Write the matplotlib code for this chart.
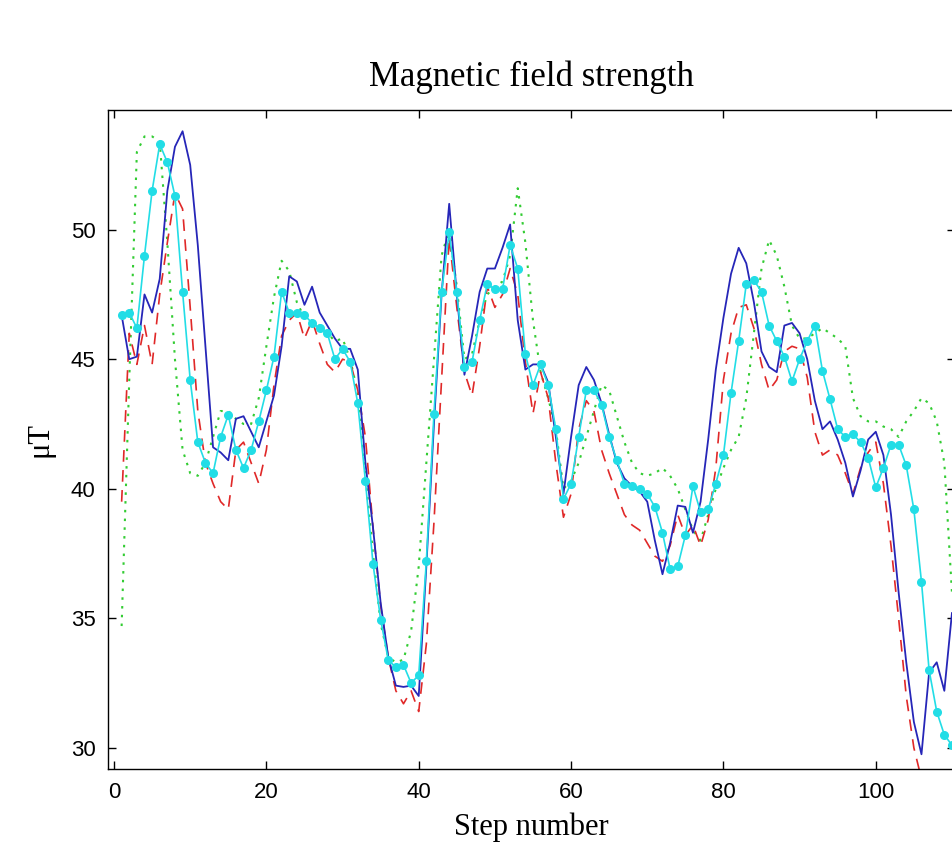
import matplotlib
matplotlib.use("Agg")
import matplotlib.pyplot as plt
import numpy as np

steps = list(range(1, 111))

blue = [46.7, 45.0, 45.1, 47.5, 46.8, 48.1, 51.5, 53.2, 53.8, 52.5,
        49.4, 45.5, 41.6, 41.4, 41.1, 42.7, 42.8, 42.2, 41.6, 42.6,
        43.6, 45.5, 48.2, 48.0, 47.1, 47.8, 46.8, 46.3, 45.8, 45.4,
        45.4, 44.6, 41.0, 38.5, 35.6, 33.5, 32.4, 32.35, 32.4, 32.0,
        37.0, 42.5, 47.5, 51.0, 47.5, 44.4, 45.9, 47.6, 48.5, 48.5,
        49.3, 50.2, 46.5, 44.6, 44.8, 44.8, 44.1, 42.0, 39.8, 42.0,
        44.0, 44.7, 44.2, 43.3, 42.1, 41.0, 40.4, 40.1, 39.9, 39.5,
        38.0, 36.7, 37.9, 39.35, 39.3, 38.3, 39.5, 41.9, 44.6, 46.6,
        48.3, 49.3, 48.7, 47.2, 45.3, 44.7, 44.5, 46.3, 46.4, 46.0,
        45.0, 43.4, 42.3, 42.6, 41.9, 41.0, 39.7, 40.7, 41.9, 42.2,
        41.3, 39.0, 36.0, 33.3, 31.0, 29.75, 32.9, 33.3, 32.2, 35.2]

cyan = [46.7, 46.8, 46.2, 49.0, 51.5, 53.3, 52.6, 51.3, 47.6, 44.2,
        41.8, 41.0, 40.6, 42.0, 42.85, 41.5, 40.8, 41.5, 42.6, 43.8,
        45.1, 47.6, 46.8, 46.8, 46.7, 46.4, 46.2, 46.0, 45.0, 45.4,
        44.9, 43.3, 40.3, 37.1, 34.95, 33.4, 33.1, 33.2, 32.5, 32.8,
        37.2, 42.9, 47.6, 49.9, 47.6, 44.7, 44.9, 46.5, 47.9, 47.7,
        47.7, 49.4, 48.5, 45.2, 44.0, 44.8, 44.0, 42.3, 39.6, 40.2,
        42.0, 43.8, 43.8, 43.25, 42.0, 41.1, 40.2, 40.1, 40.0, 39.8,
        39.3, 38.3, 36.9, 37.0, 38.2, 40.1, 39.1, 39.2, 40.2, 41.3,
        43.7, 45.7, 47.9, 48.05, 47.6, 46.3, 45.7, 45.1, 44.15, 45.0,
        45.7, 46.3, 44.55, 43.45, 42.3, 42.0, 42.1, 41.8, 41.2, 40.05,
        40.8, 41.7, 41.7, 40.9, 39.2, 36.4, 33.0, 31.4, 30.5, 30.1]

red = [39.5, 46.0, 44.8, 46.3, 44.8, 47.5, 49.5, 51.4, 50.8, 47.0,
       43.0, 41.0, 40.2, 39.5, 39.2, 41.5, 41.8, 41.0, 40.2, 41.5,
       44.0, 45.9, 46.5, 46.8, 45.8, 46.5, 45.6, 44.8, 44.5, 45.0,
       44.9, 43.8, 42.0, 38.5, 35.5, 33.5, 32.2, 31.7, 32.2, 31.4,
       34.0, 38.7, 44.2, 49.7, 47.0, 44.5, 43.6, 45.5, 47.8, 47.0,
       47.5, 48.5, 47.5, 44.9, 42.9, 44.5, 43.5, 41.0, 38.9, 39.8,
       42.3, 43.4, 43.0, 41.5, 40.6, 39.8, 39.0, 38.6, 38.4, 37.9,
       37.4, 37.2, 37.8, 39.0, 38.2, 38.6, 37.8, 38.8, 40.8, 44.2,
       46.0, 47.0, 47.1, 46.2, 44.8, 43.8, 44.2, 45.3, 45.5, 45.4,
       44.3, 42.2, 41.3, 41.5, 41.3, 40.6, 39.8, 40.8, 41.4, 41.8,
       40.2, 37.8, 35.0, 32.0, 30.0, 28.8, 28.3, 28.5, 28.8, 28.9]

green = [34.7, 44.2, 53.0, 53.6, 53.6, 53.4, 49.5, 45.0, 41.5, 40.6,
         40.5, 41.0, 42.0, 43.0, 43.0, 42.7, 42.5, 42.5, 43.5, 45.5,
         47.4, 48.8, 48.4, 47.2, 46.6, 46.5, 46.3, 46.0, 45.7, 45.8,
         45.0, 43.7, 40.5, 37.5, 34.8, 33.5, 33.3, 33.4, 34.5, 37.0,
         41.0, 45.0, 49.0, 50.0, 47.8, 45.0, 45.2, 46.5, 47.5, 47.8,
         48.0, 49.0, 51.6, 49.5, 46.5, 44.5, 43.5, 42.3, 40.0, 40.3,
         41.0, 42.0, 43.0, 44.0, 43.8, 42.8, 41.8, 41.0, 40.6, 40.5,
         40.6, 40.8, 40.5, 40.0, 39.2, 38.4, 38.0, 39.0, 40.0, 40.8,
         41.5, 42.0, 43.5, 46.0, 48.5, 49.6, 49.0, 47.8, 46.3, 45.8,
         45.8, 46.0, 46.2, 46.0, 45.8, 45.5, 43.5, 42.8, 42.6, 42.6,
         42.4, 42.3, 42.0, 42.6, 43.0, 43.5, 43.3, 42.6, 41.0, 36.0]

xticks = [0, 20, 40, 60, 80, 100]
yticks = [30, 35, 40, 45, 50]

W, H = 953, 863
fig = plt.figure(figsize=(W / 100, H / 100), dpi=100)
left, right, top, bottom = 108, 955, 110, 769.3
ax = fig.add_axes([left / W, 1 - bottom / H, (right - left) / W, (bottom - top) / H])

ax.plot(steps, green, linestyle=(0, (1.2, 3)), color='#33cc33', linewidth=1.5)
ax.plot(steps, red, linestyle=(0, (7, 5)), color='#e02828', linewidth=1.2)
ax.plot(steps, blue, linestyle='-', color='#2626b8', linewidth=1.3)
ax.plot(steps, cyan, linestyle='-', color='#22dde6', linewidth=1.2,
        marker='o', markersize=5.5, markerfacecolor='#22dde6', markeredgecolor='#22dde6')

ax.set_xlim(-0.79, 110.4)
ax.set_ylim(29.17, 54.62)
ax.set_xticks(xticks)
ax.set_yticks(yticks)
ax.tick_params(direction='in', length=6, width=1, top=True, right=True,
               labelsize=16, pad=9)
for lab in ax.get_xticklabels() + ax.get_yticklabels():
    lab.set_family('Liberation Sans')
for sp in ax.spines.values():
    sp.set_linewidth(1.0)

ax.set_title('Magnetic field strength', family='Liberation Serif', fontsize=25, pad=17)
ax.set_xlabel('Step number', family='Liberation Serif', fontsize=22, labelpad=7)
ax.set_ylabel('\u03bcT', family='Liberation Serif', fontsize=22, labelpad=12)

fig.savefig('out.png', dpi=100)
